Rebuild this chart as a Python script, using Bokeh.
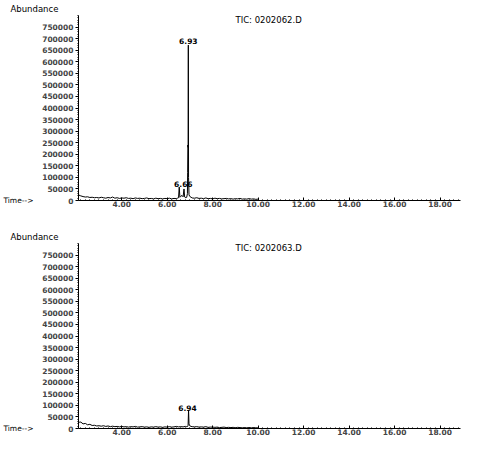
from bokeh.plotting import figure
from bokeh.layouts import column
from bokeh.models import Range1d, Label, FixedTicker, PrintfTickFormatter, Title, LinearAxis
from bokeh.embed import file_html
from bokeh.resources import INLINE

# ---- data ----
time_a = [2.1, 2.2, 2.3, 2.4, 2.5, 2.6, 2.7, 2.8, 2.9, 3.0, 3.1, 3.2, 3.3, 3.4, 3.5, 3.6, 3.7, 3.8, 3.9,
          4.0, 4.1, 4.2, 4.3, 4.4, 4.5, 4.6, 4.7, 4.8, 4.9, 5.0, 5.1, 5.2, 5.3, 5.4, 5.5, 5.6, 5.7, 5.8, 5.9,
          6.0, 6.1, 6.2, 6.3, 6.4, 6.45, 6.5, 6.53, 6.56, 6.6, 6.65, 6.7, 6.74, 6.77, 6.82, 6.86, 6.89,
          6.90, 6.91, 6.92, 6.93, 6.94, 6.96, 6.99, 7.05, 7.1, 7.2, 7.3, 7.4, 7.5, 7.6, 7.7, 7.8, 7.9,
          8.0, 8.1, 8.2, 8.3, 8.4, 8.5, 8.6, 8.7, 8.8, 8.9, 9.0, 9.1, 9.2, 9.3, 9.4, 9.5, 9.6, 9.7, 9.8, 9.9, 10.0]
abund_a = [24000, 20000, 17000, 15000, 16000, 13000, 14000, 12000, 13000, 11000, 14000, 12000, 10000, 13000,
           11000, 15000, 10000, 12000, 9000,
           11000, 10000, 12000, 9000, 10000, 8000, 11000, 9000, 10000, 8000, 9000, 11000, 8000, 9000, 7000,
           10000, 8000, 9000, 7000, 9000,
           8000, 10000, 7000, 9000, 8000, 10000, 12000, 58000, 14000, 18000, 22000, 16000, 50000, 15000,
           12000, 14000, 30000,
           120000, 240000, 230000, 672000, 100000, 25000, 18000, 14000, 11000, 10000, 12000, 9000, 10000,
           8000, 11000, 8000, 9000,
           7000, 10000, 8000, 9000, 7000, 8000, 9000, 7000, 8000, 6000, 8000, 7000, 9000, 6000, 7000, 6000,
           8000, 6000, 7000, 5000, 6000]

time_b = [2.1, 2.15, 2.2, 2.3, 2.4, 2.5, 2.6, 2.7, 2.8, 2.9, 3.0, 3.1, 3.2, 3.3, 3.4, 3.5, 3.6, 3.7, 3.8, 3.9,
          4.0, 4.1, 4.2, 4.3, 4.4, 4.5, 4.6, 4.7, 4.8, 4.9, 5.0, 5.1, 5.2, 5.3, 5.4, 5.5, 5.6, 5.7, 5.8, 5.9,
          6.0, 6.1, 6.2, 6.3, 6.4, 6.5, 6.6, 6.7, 6.8, 6.86, 6.90, 6.92, 6.94, 6.96, 6.99, 7.05, 7.1, 7.2,
          7.3, 7.4, 7.5, 7.6, 7.7, 7.8, 7.9,
          8.0, 8.1, 8.2, 8.3, 8.4, 8.5, 8.6, 8.7, 8.8, 8.9, 9.0, 9.1, 9.2, 9.3, 9.4, 9.5, 9.6, 9.7, 9.8, 9.9, 10.0]
abund_b = [32000, 26000, 28000, 20000, 22000, 16000, 18000, 13000, 14000, 11000, 12000, 10000, 12000, 9000,
           11000, 8000, 10000, 8000, 9000, 7000,
           9000, 7000, 8000, 6000, 8000, 7000, 9000, 6000, 7000, 8000, 6000, 7000, 5000, 7000, 6000, 8000,
           6000, 7000, 5000, 7000,
           6000, 8000, 6000, 7000, 9000, 7000, 8000, 7000, 9000, 8000, 9000, 14000, 80000, 20000, 12000,
           9000, 8000, 7000,
           8000, 6000, 7000, 6000, 8000, 5000, 6000,
           6000, 5000, 6000, 4000, 5000, 6000, 4000, 5000, 4000, 5000, 3000, 5000, 4000, 3000, 4000, 3000,
           4000, 3000, 4000, 3000, 3000]

x_ticks = [4, 6, 8, 10, 12, 14, 16, 18]
y_ticks = list(range(0, 800000, 50000))

files = ["TIC: 0202062.D", "TIC: 0202063.D"]
peak_labels_a = ["6.66", "6.93"]
peak_pos_a = [(6.71, 70000), (6.93, 690000)]
peak_labels_b = ["6.94"]
peak_pos_b = [(6.89, 90000)]

X0, X1 = 2.1, 18.9
Y0, Y1 = 0, 800000
FONT = "DejaVu Sans"


def make_fig(t, a, title, plabels, ppos, frame_h, top):
    p = figure(frame_width=382, frame_height=frame_h, output_backend="svg", toolbar_location=None,
               x_range=Range1d(X0, X1), y_range=Range1d(Y0, Y1),
               min_border_left=76, min_border_right=24, min_border_top=top, min_border_bottom=0)
    p.outline_line_color = None
    p.xgrid.visible = False
    p.ygrid.visible = False
    p.line(t, a, line_color="black", line_width=1)

    xa = p.xaxis[0]
    xa.ticker = FixedTicker(ticks=x_ticks, minor_ticks=[x_ticks[0] - 2 + 0.2 * i for i in range(90)])
    xa.formatter = PrintfTickFormatter(format="%.2f")
    xa.major_tick_in = 3
    xa.major_tick_out = 0
    xa.minor_tick_in = 1
    xa.minor_tick_out = 0
    xa.major_label_standoff = 0
    xa.major_label_text_font = FONT
    xa.major_label_text_font_size = "7.5px"
    xa.major_label_text_font_style = "bold"

    ya = p.yaxis[0]
    ya.ticker = FixedTicker(ticks=y_ticks, minor_ticks=list(range(0, 800001, 10000)))
    ya.formatter = PrintfTickFormatter(format="%d")
    ya.major_tick_in = 0
    ya.major_tick_out = 3
    ya.minor_tick_in = 0
    ya.minor_tick_out = 1
    ya.major_label_standoff = 2
    ya.major_label_text_font = FONT
    ya.major_label_text_font_size = "7.5px"
    ya.major_label_text_font_style = "bold"

    # "Time-->" caption at the bottom left, beside the y axis
    cap = LinearAxis(ticker=FixedTicker(ticks=[Y0]), major_label_overrides={Y0: "Time-->"})
    cap.axis_line_color = None
    cap.major_tick_line_color = None
    cap.minor_tick_line_color = None
    cap.major_label_standoff = 0
    cap.major_label_text_font = FONT
    cap.major_label_text_font_size = "7.5px"
    cap.major_label_text_color = "black"
    p.add_layout(cap, "left")

    p.add_layout(Title(text="Abundance", align="left", offset=-68, standoff=3, text_font=FONT,
                       text_color="black", text_font_size="8.5px", text_font_style="normal",
                       text_line_height=1.0), "above")
    common = dict(text_font=FONT, text_color="black", text_baseline="middle")
    p.add_layout(Label(x=10.46, y=Y1 - 18000, text=title, text_font_size="8.5px", text_align="center", **common))
    for lab, (lx, ly) in zip(plabels, ppos):
        p.add_layout(Label(x=lx, y=ly, text=lab, text_font_size="7.5px", text_font_style="bold",
                           text_align="center", **common))
    return p


p1 = make_fig(time_a, abund_a, files[0], peak_labels_a, peak_pos_a, 185, 14)
p2 = make_fig(time_b, abund_b, files[1], peak_labels_b, peak_pos_b, 185, 34)

layout = column(p1, p2, spacing=0)
open("out.html", "w").write(file_html(layout, INLINE))
